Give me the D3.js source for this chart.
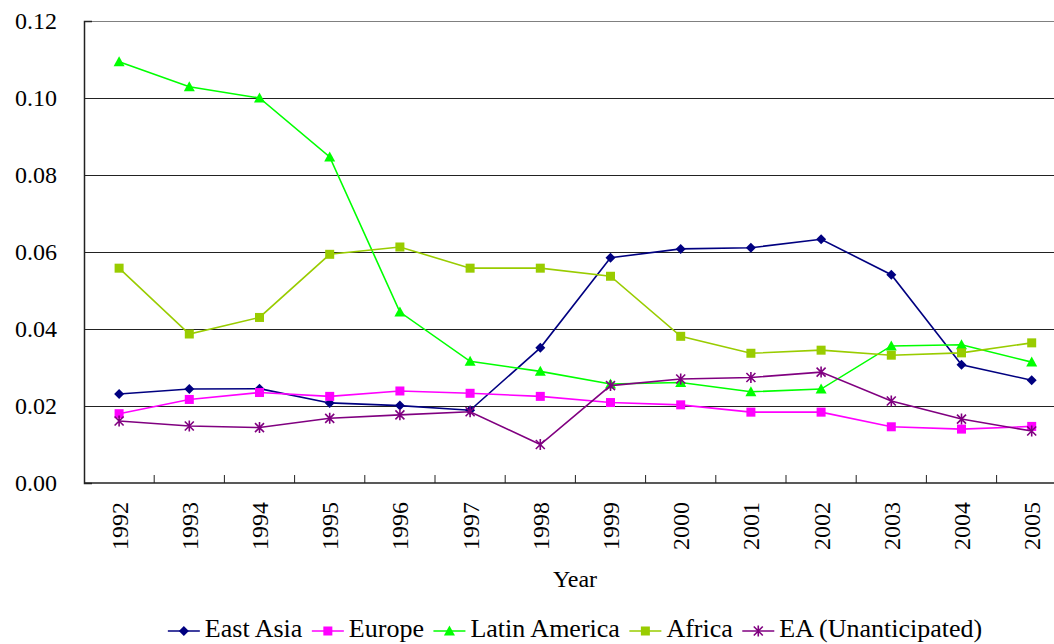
<!DOCTYPE html>
<html>
<head>
<meta charset="utf-8">
<script src="https://cdn.jsdelivr.net/npm/d3@7"></script>
<style>
  html, body { margin: 0; padding: 0; background: #fff; }
</style>
</head>
<body>
<svg id="chart" width="1054" height="644" style="font-family: 'Liberation Serif', 'Times New Roman', serif;"></svg>
<script>
// chart values
var years = ["1992","1993","1994","1995","1996","1997","1998","1999","2000","2001","2002","2003","2004","2005"];
var eastAsia = [0.0231,0.0244,0.0245,0.0208,0.0201,0.0189,0.0351,0.0585,0.0608,0.0611,0.0633,0.0541,0.0307,0.0267];
var europe = [0.0180,0.0217,0.0235,0.0225,0.0239,0.0233,0.0225,0.0209,0.0203,0.0184,0.0184,0.0146,0.0140,0.0147];
var latinAmerica = [0.1094,0.1029,0.1000,0.0847,0.0444,0.0316,0.0290,0.0257,0.0261,0.0237,0.0244,0.0356,0.0359,0.0314];
var africa = [0.0558,0.0387,0.0430,0.0594,0.0613,0.0558,0.0558,0.0537,0.0381,0.0337,0.0345,0.0332,0.0338,0.0364];
var eaUnanticipated = [0.0161,0.0148,0.0144,0.0168,0.0177,0.0185,0.0100,0.0253,0.0270,0.0274,0.0288,0.0213,0.0166,0.0135];
var yTicks = [0, 0.02, 0.04, 0.06, 0.08, 0.10, 0.12];

var series = [
  {name: "East Asia", values: eastAsia, color: "#000080", marker: "diamond"},
  {name: "Europe", values: europe, color: "#ff00ff", marker: "square"},
  {name: "Latin America", values: latinAmerica, color: "#00ff00", marker: "triangle"},
  {name: "Africa", values: africa, color: "#99cc00", marker: "bigsquare"},
  {name: "EA (Unanticipated)", values: eaUnanticipated, color: "#800080", marker: "star"}
];

var serif = "'Liberation Serif', 'Times New Roman', serif";
var svg = d3.select("#chart");
var plotLeft = 84, plotRight = 1066.8, plotTop = 21, plotBottom = 483;

var x = d3.scaleBand().domain(years).range([plotLeft, plotRight]);
var y = d3.scaleLinear().domain([0, 0.12]).range([plotBottom, plotTop]);

// gridlines
svg.append("g").selectAll("line")
  .data(yTicks.filter(function(d) { return d > 0; }))
  .enter().append("line")
  .attr("x1", plotLeft).attr("x2", plotRight)
  .attr("y1", function(d) { return Math.round(y(d)) + 0.5; })
  .attr("y2", function(d) { return Math.round(y(d)) + 0.5; })
  .attr("stroke", function(d) { return d === 0.12 ? "#808080" : "#222"; })
  .attr("stroke-width", 1);

// y axis
var yAxis = d3.axisLeft(y).tickValues(yTicks).tickFormat(d3.format(".2f")).tickSize(-8).tickPadding(27);
var gy = svg.append("g").attr("transform", "translate(" + plotLeft + ",0)").call(yAxis);
gy.attr("font-family", null).attr("font-size", null);
gy.select(".domain").attr("stroke", "#222").attr("stroke-width", 1.5);
gy.selectAll(".tick line").attr("stroke", "#222");
gy.selectAll("text").style("font-size", "24px").style("font-family", serif).attr("fill", "#000");

// x axis: ticks between categories, pointing up
var gx = svg.append("g");
gx.append("line").attr("x1", plotLeft).attr("x2", plotRight).attr("y1", plotBottom).attr("y2", plotBottom)
  .attr("stroke", "#222").attr("stroke-width", 1.5);
gx.selectAll("line.tk").data(years)
  .enter().append("line").attr("class", "tk")
  .attr("x1", function(d) { return x(d) + x.step(); })
  .attr("x2", function(d) { return x(d) + x.step(); })
  .attr("y1", plotBottom).attr("y2", plotBottom - 8)
  .attr("stroke", "#222");
gx.selectAll("text").data(years).enter().append("text")
  .attr("transform", function(d) {
    return "translate(" + (x(d) + x.bandwidth() / 2) + "," + (plotBottom + 19) + ") rotate(-90)";
  })
  .attr("text-anchor", "end")
  .attr("dy", "0.35em")
  .style("font-size", "24px").style("font-family", serif)
  .text(function(d) { return d; });

svg.append("text").attr("x", 575).attr("y", 587).attr("text-anchor", "middle")
  .style("font-size", "24px").style("font-family", serif).text("Year");

function cx(i) { return x(years[i]) + x.bandwidth() / 2; }

function drawMarker(g, type, color) {
  if (type === "diamond") {
    g.append("path").attr("d", "M0,-5L5,0L0,5L-5,0Z").attr("fill", color);
  } else if (type === "square") {
    g.append("rect").attr("x", -4.5).attr("y", -4.5).attr("width", 9).attr("height", 9).attr("fill", color);
  } else if (type === "bigsquare") {
    g.append("rect").attr("x", -4.5).attr("y", -4.5).attr("width", 9).attr("height", 9).attr("fill", color);
  } else if (type === "triangle") {
    g.append("path").attr("d", "M0,-5.5L5.5,4.5L-5.5,4.5Z").attr("fill", color);
  } else if (type === "star") {
    g.append("path").attr("d", "M-4.5,-4.5L4.5,4.5M-4.5,4.5L4.5,-4.5M0,-5.5L0,5.5")
      .attr("stroke", color).attr("stroke-width", 1.6).attr("fill", "none");
  }
}

var line = d3.line().x(function(d, i) { return cx(i); }).y(function(d) { return y(d); });

series.forEach(function(s) {
  var g = svg.append("g");
  g.append("path").datum(s.values).attr("d", line)
    .attr("fill", "none").attr("stroke", s.color).attr("stroke-width", 1.6);
  s.values.forEach(function(v, i) {
    var m = g.append("g").attr("transform", "translate(" + cx(i) + "," + y(v) + ")");
    drawMarker(m, s.marker, s.color);
  });
});

// legend
var legend = svg.append("g");
var lx = 0, gap = 9.5;
series.forEach(function(s) {
  var it = legend.append("g").attr("transform", "translate(" + lx + ",0)");
  it.append("line").attr("x1", 0).attr("x2", 32).attr("y1", 0).attr("y2", 0)
    .attr("stroke", s.color).attr("stroke-width", 1.6);
  var m = it.append("g").attr("transform", "translate(16,0)");
  drawMarker(m, s.marker, s.color);
  var t = it.append("text").attr("x", 37).attr("y", 6)
    .style("font-size", "26px").style("font-family", serif).text(s.name);
  lx += 37 + t.node().getComputedTextLength() + gap;
});
var legendWidth = lx - gap;
legend.attr("transform", "translate(" + (575 - legendWidth / 2) + ",631)");
</script>
</body>
</html>
